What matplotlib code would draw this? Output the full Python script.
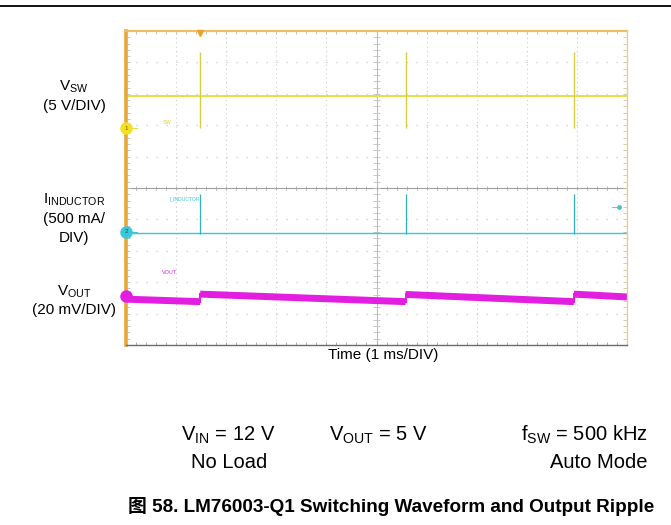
"""
LM76003-Q1 switching waveform and output ripple (scope capture redrawn).
"""

import matplotlib.pyplot as plt
import numpy as np
from matplotlib.lines import Line2D

plt.rcParams["font.family"] = ["Liberation Sans", "Noto Sans CJK SC"]
plt.rcParams["mathtext.fontset"] = "custom"
plt.rcParams["mathtext.rm"] = "Liberation Sans"

# time axis: 10 divisions of 1 ms, vertical: 10 divisions
time_range_ms = [0.0, 10.0]
div_range = [-5.0, 5.0]
switch_times_ms = [1.48, 5.58, 8.94]

# switch node (5 V/DIV)
vsw_level_div = 2.93
vsw_spike_top_div = 4.33
vsw_spike_bottom_div = 1.91
vsw_ground_div = 1.91

# inductor current (500 mA/DIV)
il_level_div = -1.43
il_spike_top_div = -0.19
il_ground_div = -1.40

# output voltage (20 mV/DIV), one segment between each pair of pulses
vout_seg_start_div = [-3.54, -3.38, -3.39, -3.38]
vout_seg_end_div = [-3.62, -3.62, -3.62, -3.47]
vout_ground_div = -3.44

YELLOW = "#e4e048"
CYAN = "#3cc6d6"
MAGENTA = "#e21ee0"
ORANGE = "#e8a638"

W, H = 671, 525
fig = plt.figure(figsize=(W / 100, H / 100), dpi=100)


def fx(px):
    return px / W


def fy(py):
    return 1 - py / H


fig.add_artist(Line2D([0, 1], [fy(5.5), fy(5.5)], color="black", lw=1.3))

ax = fig.add_axes([fx(126), fy(345), fx(501), 314 / H])
ax.set_xlim(time_range_ms)
ax.set_ylim(div_range)
ax.set_xticks([])
ax.set_yticks([])
for side in ["left", "right", "top", "bottom"]:
    ax.spines[side].set_visible(False)

# graticule
for x in np.arange(1, 10):
    if x != 5:
        ax.axvline(x, color="#cccccc", lw=0.8, ls=(0, (1, 3)), zorder=1)
for y in np.arange(-4, 5):
    if y != 0:
        ax.axhline(y, color="#c8c8c8", lw=0.9, ls=(0, (1, 7)), zorder=1)
ax.axvline(5, color="#bcbcbc", lw=0.8, zorder=1)
ax.axhline(0, color="#a0a0a0", lw=0.8, zorder=1)
minor_x = np.arange(0.2, 10, 0.2)
minor_y = np.arange(-4.8, 5, 0.2)
ax.vlines(minor_x, -0.06, 0.06, color="#a8a8a8", lw=0.6, zorder=1)
ax.hlines(minor_y, 4.94, 5.06, color="#c0c0c0", lw=0.6, zorder=1)
ax.vlines(minor_x, 4.9, 5.0, color="#bcbcbc", lw=0.6, zorder=1)
ax.vlines(minor_x, -5.0, -4.9, color="#a0a0a0", lw=0.6, zorder=1)
ax.hlines(minor_y, 0, 0.08, color="#c0c0c0", lw=0.6, zorder=1)
ax.hlines(minor_y, 9.92, 10, color="#d0c4a0", lw=0.6, zorder=1)

# frame
ax.plot([0, 0], div_range, color=ORANGE, lw=2.6, zorder=6, clip_on=False)
ax.plot(time_range_ms, [5, 5], color="#f0c060", lw=1.6, zorder=6, clip_on=False)
ax.plot([10, 10], div_range, color="#e6cc98", lw=1.0, zorder=6, clip_on=False)
ax.plot(time_range_ms, [-5, -5], color="#6a6a6a", lw=1.0, zorder=6, clip_on=False)
ax.plot([switch_times_ms[0]], [4.93], marker="v", color="#f0a020", ms=5,
        zorder=7, clip_on=False)

# switch node
ax.plot(time_range_ms, [vsw_level_div] * 2, color=YELLOW, lw=1.4, zorder=3)
ax.vlines(switch_times_ms, vsw_spike_bottom_div, vsw_spike_top_div,
          color="#d8cc40", lw=1.0, zorder=3)

# inductor current
ax.plot(time_range_ms, [il_level_div] * 2, color=CYAN, lw=1.0, zorder=3)
ax.vlines(switch_times_ms, il_level_div - 0.05, il_spike_top_div,
          color="#30b0c0", lw=0.9, zorder=3)

# output voltage ripple
bounds = [time_range_ms[0]] + switch_times_ms + [time_range_ms[1]]
for i in range(len(vout_seg_start_div)):
    ax.plot([bounds[i], bounds[i + 1]],
            [vout_seg_start_div[i], vout_seg_end_div[i]],
            color=MAGENTA, lw=5.0, solid_capstyle="butt", zorder=4)
    if i > 0:
        ax.plot([bounds[i], bounds[i]],
                [vout_seg_end_div[i - 1], vout_seg_start_div[i]],
                color=MAGENTA, lw=1.5, zorder=4)

# channel markers
ax.plot([0], [vsw_ground_div], marker="o", ms=8, color="#f4e020", zorder=8,
        clip_on=False)
ax.text(0, vsw_ground_div, "1", fontsize=4.5, ha="center", va="center",
        color="#806000", zorder=9)
ax.plot([0.12, 0.22], [vsw_ground_div] * 2, color=YELLOW, lw=0.8, zorder=8)
ax.plot([0], [il_ground_div], marker="o", ms=8, color="#38c8d8", zorder=8,
        clip_on=False)
ax.text(0, il_ground_div, "2", fontsize=4.5, ha="center", va="center",
        color="#105060", zorder=9)
ax.plot([0.12, 0.22], [il_ground_div] * 2, color=CYAN, lw=0.8, zorder=8)
ax.plot([0], [vout_ground_div], marker="o", ms=8, color=MAGENTA, zorder=8,
        clip_on=False)
ax.plot([9.84], [-0.6], marker="o", ms=2.5, color=CYAN, zorder=8)
ax.plot([9.7, 9.8], [-0.6, -0.6], color=CYAN, lw=0.6, zorder=8)

ax.text(0.74, 2.1, "SW", fontsize=4, color="#d8d040", ha="left", va="center")
ax.text(0.86, -0.35, "I_INDUCTOR", fontsize=3.6, color=CYAN, ha="left",
        va="center")
ax.text(0.72, -2.68, "VOUT", fontsize=4, color=MAGENTA, ha="left",
        va="center")

# channel labels
left_labels = [
    ("V$_{\\mathregular{SW}}$", 87),
    ("(5 V/DIV)", 106),
    ("I$_{\\mathregular{INDUCTOR}}$", 200),
    ("(500 mA/", 219),
    ("DIV)", 238),
    ("V$_{\\mathregular{OUT}}$", 292),
    ("(20 mV/DIV)", 310),
]
for label, py in left_labels:
    fig.text(fx(74), fy(py), label, fontsize=11, ha="center", va="center")

fig.text(fx(383), fy(355), "Time (1 ms/DIV)", fontsize=11, ha="center",
         va="center")

# test conditions
cond_size = 14.5
fig.text(fx(228), fy(435), "V$_{\\mathregular{IN}}$ = 12 V", fontsize=cond_size,
         ha="center", va="center")
fig.text(fx(229), fy(463), "No Load", fontsize=cond_size, ha="center",
         va="center")
fig.text(fx(378), fy(435), "V$_{\\mathregular{OUT}}$ = 5 V", fontsize=cond_size,
         ha="center", va="center")
fig.text(fx(648), fy(435), "f$_{\\mathregular{SW}}$ = 500 kHz",
         fontsize=cond_size, ha="right", va="center")
fig.text(fx(648), fy(463), "Auto Mode", fontsize=cond_size, ha="right",
         va="center")

fig.text(fx(654), fy(507),
         "图 58. LM76003-Q1 Switching Waveform and Output Ripple",
         fontsize=13.6, fontweight="bold", ha="right", va="center")

fig.savefig("out.png", dpi=100)
